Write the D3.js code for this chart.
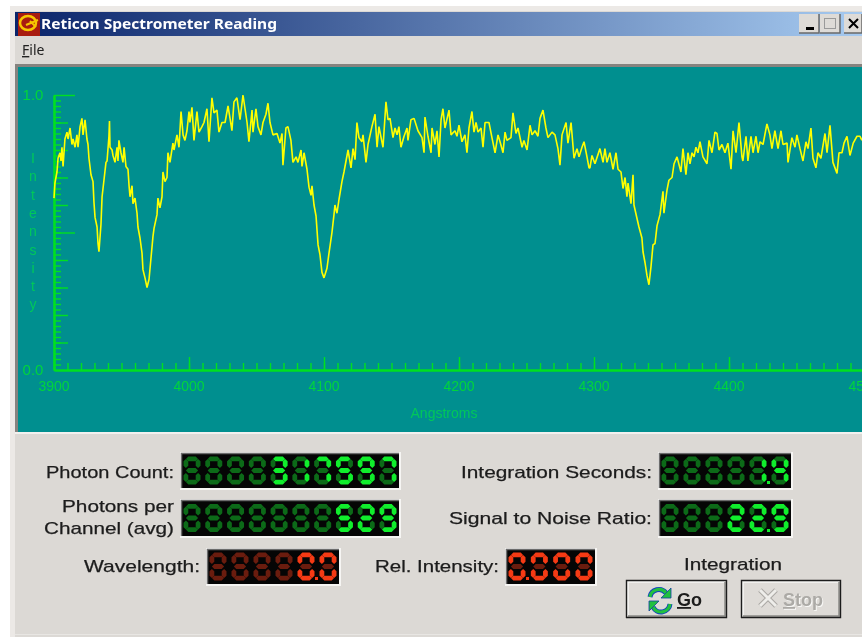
<!DOCTYPE html>
<html><head><meta charset="utf-8">
<style>html,body{margin:0;padding:0;background:#fff;overflow:hidden}svg{display:block;filter:blur(.35px)}</style>
<script src="https://cdnjs.cloudflare.com/ajax/libs/d3/7.8.5/d3.min.js"></script>
</head><body><svg id="c" width="862" height="637"></svg>
<script>
// Spectrum: wavelength in Angstroms, relative intensity
const wavelengths=[3900,3900.7,3902.2,3903,3904.4,3905.2,3905.9,3906.7,3908.1,3909.6,3910.4,3911.9,3913.3,3914.1,3915.6,3917,3917.8,3919.3,3920.7,3921.5,3923,3924.4,3925.2,3925.9,3927.4,3928.9,3929.6,3930.4,3931.9,3932.6,3933.3,3934.8,3935.6,3937,3938.5,3939.3,3940.7,3941.1,3941.5,3943,3943.7,3945.2,3946.7,3947.4,3948.1,3949.6,3951.1,3951.9,3953.3,3954.8,3955.6,3956.3,3957.8,3958.5,3960,3961.5,3962.2,3963.7,3965.2,3965.9,3967.4,3968.9,3970.4,3971.9,3973.3,3974.1,3976.3,3977,3978.5,3980,3980.7,3982.2,3983.7,3984.4,3985.9,3988.1,3988.9,3991.1,3992.6,3994.1,3995.6,3997,3998.5,
4000,4000.7,4002.2,4003.7,4005.9,4007.4,4009.6,4011.1,4013.3,4014.8,4017,4018.5,4020.7,4022.2,4024.4,4026.7,4028.9,4030.4,4031.8,4033.3,4035.5,4037.8,4040,4041.5,4043,4044.4,4046.7,4047.4,4049.6,4051.1,4053.3,4054.8,4057,4058.5,4060,4062.2,4065.2,4067.4,4068.9,4069.6,4071.8,4073.3,4075.5,4077,4079.3,4080.7,4083,4083.7,4085.2,4087.4,4088.9,4090.4,4091.1,4092.6,4094.1,4095.6,4097,4098.5,
4100,4102.2,4103.7,4105.9,4107.4,4108.1,4109.6,4111.1,4113.3,4114.8,4117.8,4120,4121.5,4123,4124.4,4125.9,4128.1,4128.9,4131.1,4132.6,4135.5,4137.8,4139.3,4140.7,4143.7,4145.9,4147.4,4148.9,4151.1,4152.6,4154.1,4155.5,4157,4159.3,4161.5,4162.2,4164.4,4166.7,4169.6,4172.6,4174.1,4174.8,4177,4179.3,4180,4182.2,4183.7,4185.2,4186.7,4188.1,4189.6,4192.6,4194.1,4197,4198.5,
4200,4202.2,4204.4,4205.9,4207.4,4209.6,4211.1,4212.6,4214.1,4216.3,4217.8,4219.3,4222.2,4224.4,4226.7,4228.9,4230.4,4232.6,4234.1,4235.5,4238.5,4240,4242.2,4243.7,4246.7,4248.1,4250.4,4252.6,4254.1,4256.3,4258.5,4260,4262.2,4264.4,4265.9,4268.9,4271.1,4273.3,4274.8,4276.3,4279.3,4280.7,4283,4285.2,4287.4,4288.9,4291.1,4292.6,4294.8,4296.3,4297,4298.5,
4300.7,4304.4,4306.7,4308.1,4309.6,4311.8,4314.1,4316.3,4317.8,4320,4321.5,4323,4324.4,4325.2,4327.4,4328.9,4329.6,4331.9,4333.3,4335.5,4336.3,4337.8,4339.2,4340.7,4342.2,4343.7,4345.2,4346.7,4348.9,4351.1,4351.8,4354.1,4355.5,4357.8,4359.3,4361.5,4364.4,4365.9,4368.1,4369.6,4371.1,4372.6,4374.1,4375.5,4377,4378.5,4380.7,4383.7,4385.2,4387.4,4389.6,4391.1,4392.6,4394.8,4397,4399.2,
4401.5,4403,4405.2,4407.4,4409.6,4410.3,4412.6,4414,4416.3,4417.8,4420,4421.5,4423,4425.2,4428.1,4430.3,4431.8,4434,4436.3,4438.5,4440,4443,4443.7,4446.6,4448.9,4450.3,4452.6,4454.8,4457,4458.5,4460.7,4462.2,4464.4,4465.9,4468.1,4471.1,4472.6,4474.8,4477,4480,4481.5,4483.7,4485.2,4487.4,4489.6,4492,4494.8,4497,4498.5];
const intensities=[.625,.68,.72,.77,.79,.76,.81,.74,.84,.865,.84,.88,.82,.84,.81,.855,.81,.885,.915,.855,.91,.84,.82,.77,.71,.685,.61,.555,.52,.46,.43,.53,.63,.69,.755,.76,.85,.905,.81,.80,.78,.755,.81,.76,.835,.79,.755,.81,.74,.73,.67,.63,.67,.605,.625,.57,.52,.48,.425,.365,.335,.30,.33,.41,.485,.515,.565,.625,.59,.63,.72,.685,.70,.79,.755,.825,.80,.855,.81,.94,.855,.835,.87,
.94,.90,.955,.835,.94,.865,.885,.90,.95,.83,.99,.935,.945,.865,.90,.90,.96,.915,.87,.975,.99,.91,1.0,.95,.90,.83,.945,.865,.95,.885,.855,.90,.93,.97,.90,.855,.86,.825,.86,.745,.88,.885,.835,.755,.775,.755,.80,.74,.79,.73,.665,.635,.67,.60,.56,.455,.42,.355,
.335,.37,.425,.50,.565,.60,.57,.62,.685,.72,.80,.735,.805,.765,.90,.845,.83,.855,.755,.82,.885,.93,.81,.885,.81,.975,.91,.915,.845,.88,.855,.885,.81,.85,.88,.835,.91,.915,.87,.845,.79,.92,.85,.79,.88,.82,.87,.775,.91,.95,.88,.945,.855,.87,.85,
.89,.83,.855,.79,.88,.94,.865,.90,.865,.88,.81,.90,.90,.845,.79,.855,.83,.79,.865,.835,.845,.935,.86,.88,.81,.835,.80,.89,.855,.87,.85,.915,.945,.88,.845,.865,.855,.805,.745,.855,.90,.825,.90,.77,.805,.775,.81,.83,.775,.735,.735,.78,
.75,.805,.755,.805,.755,.79,.73,.79,.73,.72,.66,.70,.63,.68,.605,.71,.60,.55,.52,.48,.43,.39,.345,.31,.375,.455,.46,.525,.565,.65,.57,.655,.69,.70,.75,.775,.72,.805,.71,.79,.75,.79,.775,.81,.79,.83,.775,.75,.835,.79,.865,.86,.80,.82,.79,.825,
.73,.87,.79,.90,.775,.76,.85,.76,.85,.79,.85,.79,.83,.82,.895,.855,.805,.87,.805,.87,.82,.825,.755,.845,.81,.855,.805,.76,.83,.805,.88,.77,.735,.79,.77,.86,.79,.89,.755,.715,.79,.79,.825,.85,.78,.825,.85,.85,.835];

// Axis ticks and labels
const xMajorTicks=[3900,4000,4100,4200,4300,4400,4500];
const xMinorTicks=d3.range(3910,4500,10);
const yLongTicks=[0.5,1.0];
const yMidTicks=[0.1,0.2,0.3,0.4,0.6,0.7,0.8,0.9];
const yMinorTicks=d3.range(0.02,1,0.02);
const xTitle="Angstroms";
const yTitleLetters=["I","n","t","e","n","s","i","t","y"];

// Readouts
const readouts=[
 {value:"317597",digits:10,color:"green",x0:181,x1:399,y0:453,y1:488},
 {value:"529",digits:10,color:"green",x0:181,x1:399,y0:500,y1:536},
 {value:"0.0",digits:6,color:"red",x0:207,x1:339,y0:549,y1:584},
 {value:"0.000",digits:4,color:"red",x0:506,x1:595,y0:549,y1:584},
 {value:"1.4",digits:6,color:"green",x0:659,x1:791,y0:453,y1:488},
 {value:"22.9",digits:6,color:"green",x0:659,x1:791,y0:500,y1:536}
];
const fieldLabels=[["Photon Count:",174,478,128],["Photons per",174,512,112],["Channel (avg)",174,534,130],["Integration Seconds:",652,478,191],["Signal to Noise Ratio:",652,524,203],["Wavelength:",200,572,116],["Rel. Intensity:",499,572,124],["Integration",782,570,98]];

const svg=d3.select("#c");
const PANEL="#dcd9d5",TEAL="#008f8f",GREEN="#00e020",TXT="#1c1c1c";
const rect=(x,y,w,h,f,s)=>svg.append("rect").attr("x",x).attr("y",y).attr("width",w).attr("height",h).attr("fill",f).attr("stroke",s||"none");

// window chrome
rect(0,0,862,637,"#ffffff");
rect(10,6,852,631,"#ece9e6");
rect(15,11,847,626,PANEL);
rect(15,634,847,1,"#e8e6e3");
const grad=svg.append("defs").append("linearGradient").attr("id","tb");
grad.append("stop").attr("offset","0").attr("stop-color","#0a246a");
grad.append("stop").attr("offset","1").attr("stop-color","#a6caf0");
rect(15,12,847,24,"url(#tb)");
// app icon
rect(18,13,22,23,"#a81c10");
svg.append("ellipse").attr("cx",28).attr("cy",23).attr("rx",8).attr("ry",7).attr("fill","none").attr("stroke","#f6c800").attr("stroke-width",2.5);
svg.append("path").attr("d","M26 25 L38 20 M30 21 L36 27").attr("stroke","#f6c800").attr("stroke-width",2);
const text=(s,x,y,o={})=>{const t=svg.append("text").attr("x",x).attr("y",y).attr("font-family",o.f||"Liberation Sans").attr("font-size",o.s||16).attr("font-weight",o.w||"normal").attr("fill",o.c||TXT).attr("text-anchor",o.a||"start").text(s);
 if(o.l)t.attr("textLength",o.l).attr("lengthAdjust","spacingAndGlyphs");return t;};
text("Reticon Spectrometer Reading",41,29,{f:"Noto Sans",s:15,w:"bold",c:"#ffffff",l:236});
// window buttons
[[799,"min"],[820,"max"],[844,"close"]].forEach(([x,k])=>{
 rect(x,14,k=="close"?18:20,19,"#dedbd7");
 svg.append("path").attr("d",`M${x} 33H${x+(k=="close"?18:20)}V14`).attr("fill","none").attr("stroke","#6a6a6a").attr("stroke-width",1.5);
 if(k=="min")rect(x+7,27,8,3,"#000");
 if(k=="max")rect(x+4.5,18.5,11,10,"none","#9a9a9a");
 if(k=="close")svg.append("path").attr("d",`M${x+5} 19L${x+14} 28M${x+14} 19L${x+5} 28`).attr("stroke","#000").attr("stroke-width",2);
});
const file=text("",22,55,{f:"Noto Sans",s:14,c:"#222"});
file.append("tspan").attr("text-decoration","underline").text("F");file.append("tspan").text("ile");
// plot panel
rect(15,64,847,3,"#86837f");
rect(15,64,3,369,"#86837f");
rect(18,67,844,365,TEAL);
rect(15,432,847,2,"#f2f1ef");

// scales and axes
const x=d3.scaleLinear().domain([3900,4500]).range([54,864]);
const y=d3.scaleLinear().domain([0,1]).range([370,95]);
const styleAxis=g=>{g.selectAll("path.domain").attr("stroke",GREEN).attr("stroke-width",1.8);g.selectAll(".tick line").attr("stroke",GREEN).attr("stroke-width",1.4);g.selectAll(".tick text").remove();};
const bottom=svg.append("g").attr("transform","translate(0,370)");
bottom.append("g").call(d3.axisBottom(x).tickValues(xMinorTicks).tickSize(-7).tickSizeOuter(0)).call(styleAxis);
bottom.append("g").call(d3.axisBottom(x).tickValues(xMajorTicks).tickSize(-13).tickSizeOuter(0)).call(styleAxis);
const left=svg.append("g").attr("transform","translate(54,0)");
[[yMinorTicks,-7],[yMidTicks,-14],[yLongTicks,-21]].forEach(([tv,s])=>{
 left.append("g").call(d3.axisLeft(y).tickValues(tv).tickSize(s).tickSizeOuter(0)).call(styleAxis);
});
const LBL="#00d53c";
xMajorTicks.forEach(v=>text(v,x(v),391,{s:14,c:LBL,a:"middle"}));
[0,1].forEach(v=>text(v.toFixed(1),33,y(v)+5,{s:15,c:LBL,a:"middle"}));
text(xTitle,444,418,{s:14,c:"#00c85a",a:"middle"});
yTitleLetters.forEach((c,i)=>text(c,33,163+i*18.3,{s:14,c:"#00c85a",a:"middle"}));

// trace
const series=wavelengths.map((w,i)=>[w,intensities[i]]);
svg.append("path").datum(series).attr("fill","none").attr("stroke","#ffff00").attr("stroke-width",1.6).attr("stroke-linejoin","bevel")
 .attr("d",d3.line().x(d=>x(d[0])).y(d=>y(d[1])));

// seven segment readouts
const SEG={0:"abcdef",1:"bc",2:"abged",3:"abgcd",4:"fgbc",5:"afgcd",6:"afgedc",7:"abc",8:"abcdefg",9:"abcdfg"};
const PAL={green:{on:"#10ee2c",off:"#0c6a18"},red:{on:"#f53a14",off:"#6a1c0e"}};
function segs(cx,cy,w,h){const l=cx-w/2,r=cx+w/2,t=cy-h/2,b=cy+h/2,k=4.8,p=k/2;
 const H=(a,c,yy)=>`M${a+p} ${yy}L${a+k} ${yy-p}H${c-k}L${c-p} ${yy}L${c-k} ${yy+p}H${a+k}Z`;
 const V=(xx,a,c)=>`M${xx} ${a+p}L${xx+p} ${a+k}V${c-k}L${xx} ${c-p}L${xx-p} ${c-k}V${a+k}Z`;
 return {a:H(l,r,t+p),d:H(l,r,b-p),g:H(l,r,cy),f:V(l+p,t,cy),b:V(r-p,t,cy),e:V(l+p,cy,b),c:V(r-p,cy,b)};}
readouts.forEach(R=>{
 rect(R.x0-1,R.y0-1,R.x1-R.x0+3,R.y1-R.y0+3,"#f6f5f3");
 rect(R.x0,R.y0,R.x1-R.x0,R.y1-R.y0,"#050505");
 svg.append("path").attr("d",`M${R.x0+.5} ${R.y1}V${R.y0+.5}H${R.x1}`).attr("fill","none").attr("stroke","#6c6c6c").attr("stroke-width",1.5);
 const g=svg.append("g");g.append("title").text(R.value);
 const pal=PAL[R.color],chars=R.value.replace(".","").split(""),dotAfter=R.value.indexOf(".");
 const pos=d3.scaleLinear().domain([0,R.digits-1]).range([R.x0+11,R.x1-11]);
 const cy=(R.y0+R.y1)/2,first=R.digits-chars.length;
 d3.range(R.digits).forEach(i=>{
  const ch=i>=first?chars[i-first]:null,lit=ch===null?"":SEG[ch],P=segs(pos(i),cy,17,28);
  Object.keys(P).forEach(k=>{g.append("path").attr("d",P[k]).attr("fill",lit.includes(k)?pal.on:pal.off);});
  if(ch!==null&&dotAfter>=0&&i-first===dotAfter-1)g.append("rect").attr("x",pos(i)+9).attr("y",R.y1-7).attr("width",3).attr("height",3).attr("fill",pal.on);
 });
});
fieldLabels.forEach(([s,xr,yb,l])=>text(s,xr-l,yb,{s:17,l:l,c:TXT}).attr("stroke",TXT).attr("stroke-width",.25));

// buttons
function button(x0,x1){rect(x0,580,x1-x0,38,"#dedbd7");
 svg.append("path").attr("d",`M${x0+2} 616V582H${x1-2}`).attr("fill","none").attr("stroke","#f8f8f6").attr("stroke-width",1.5);
 svg.append("path").attr("d",`M${x0+2} 616H${x1-2}V582`).attr("fill","none").attr("stroke","#8a8a86").attr("stroke-width",1.5);
 svg.append("path").attr("d",`M${x0+.5} 618V580.5H${x1-.5}V617.5H${x0}`).attr("fill","none").attr("stroke","#1c1c1c").attr("stroke-width",1.4);}
button(626,727);button(741,841);
// refresh icon
svg.append("path").attr("d","M650 597 A9 9 0 0 1 666 593 M670 604 A9 9 0 0 1 653 607").attr("fill","none").attr("stroke","#1040c0").attr("stroke-width",5);
svg.append("path").attr("d","M650 597 A9 9 0 0 1 666 593 M670 604 A9 9 0 0 1 653 607").attr("fill","none").attr("stroke","#22c040").attr("stroke-width",3.2);
svg.append("path").attr("d","M671 588V598H661Z M649 611V601H659Z").attr("fill","#22c040").attr("stroke","#1040a0").attr("stroke-width",.8);
const go=text("",677,606,{s:18,w:"bold",c:"#1c1c1c"});go.append("tspan").attr("text-decoration","underline").text("G");go.append("tspan").text("o");
// disabled stop
svg.append("path").attr("d","M760 590L776 606M776 590L760 606").attr("stroke","#aaa8a4").attr("stroke-width",5);
svg.append("path").attr("d","M760 590L776 606M776 590L760 606").attr("stroke","#eeedea").attr("stroke-width",3);
const st=text("",783,606,{s:18,w:"bold",c:"#acaaa6"}).style("filter","drop-shadow(1px 1px 0 #f8f8f6)");st.append("tspan").attr("text-decoration","underline").text("S");st.append("tspan").text("top");
</script></body></html>
